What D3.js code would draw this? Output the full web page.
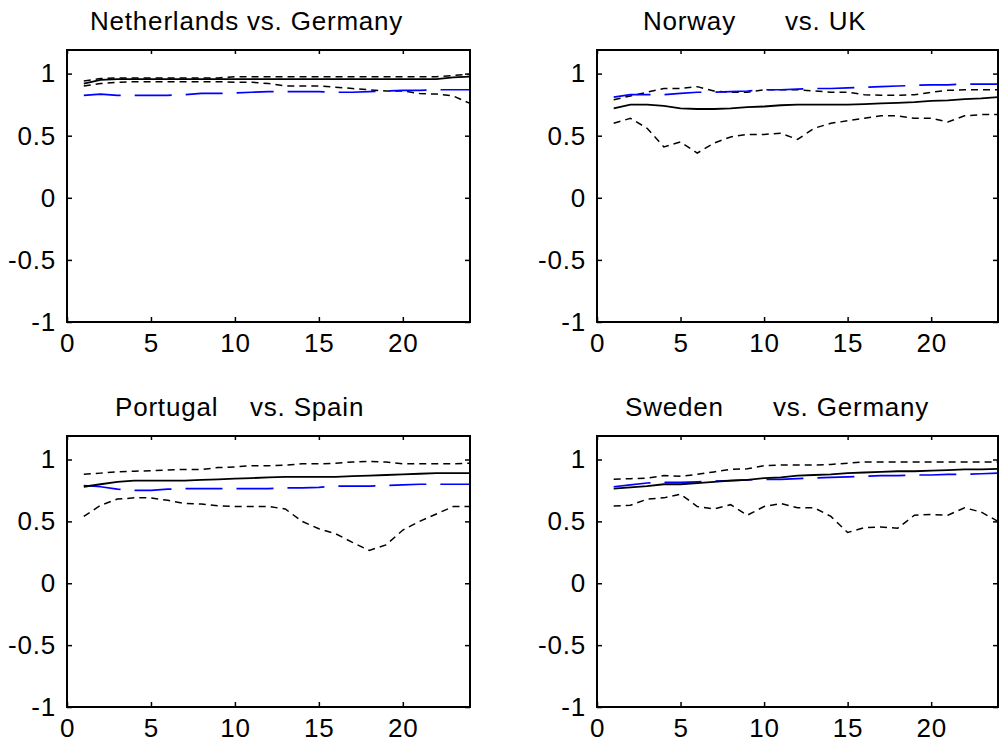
<!DOCTYPE html>
<html>
<head>
<meta charset="utf-8">
<script src="https://cdn.jsdelivr.net/npm/d3@7"></script>
<style>
  body { margin: 0; background: #fff; }
  text { font-family: 'Liberation Sans', Arial, sans-serif; }
</style>
</head>
<body>
<div id="chart"></div>
<script>
// horizon (months) and axis ticks
const horizon = [1, 2, 3, 4, 5, 6, 7, 8, 9, 10, 11, 12, 13, 14, 15, 16, 17, 18, 19, 20, 21, 22, 23, 24]
const xTicks = [0, 5, 10, 15, 20]
const yTicks = [-1, -0.5, 0, 0.5, 1]

const countries = ['Netherlands', 'Norway', 'Portugal', 'Sweden']
const partners = ['Germany', 'UK', 'Spain', 'Germany']

// Netherlands vs. Germany
const nlEstimate = [0.92, 0.95, 0.955, 0.955, 0.955, 0.955, 0.955, 0.955, 0.955, 0.955, 0.955, 0.955, 0.955, 0.955, 0.955, 0.955, 0.955, 0.955, 0.955, 0.955, 0.955, 0.955, 0.97, 0.975]
const nlUpper = [0.94, 0.96, 0.965, 0.965, 0.965, 0.965, 0.965, 0.965, 0.965, 0.975, 0.975, 0.975, 0.975, 0.975, 0.975, 0.975, 0.975, 0.975, 0.975, 0.975, 0.975, 0.975, 0.985, 0.995]
const nlLower = [0.9, 0.92, 0.93, 0.935, 0.935, 0.935, 0.935, 0.935, 0.935, 0.93, 0.93, 0.92, 0.9, 0.9, 0.9, 0.89, 0.88, 0.87, 0.86, 0.86, 0.84, 0.835, 0.82, 0.76]
const nlBenchmark = [0.825, 0.835, 0.825, 0.825, 0.825, 0.825, 0.83, 0.84, 0.84, 0.845, 0.85, 0.855, 0.855, 0.855, 0.855, 0.85, 0.85, 0.855, 0.86, 0.865, 0.865, 0.87, 0.87, 0.87]

// Norway vs. UK
const noEstimate = [0.72, 0.75, 0.75, 0.74, 0.72, 0.715, 0.715, 0.72, 0.73, 0.735, 0.745, 0.75, 0.75, 0.75, 0.75, 0.755, 0.76, 0.765, 0.77, 0.78, 0.785, 0.795, 0.8, 0.81]
const noUpper = [0.79, 0.82, 0.85, 0.88, 0.88, 0.895, 0.86, 0.85, 0.85, 0.87, 0.87, 0.87, 0.86, 0.85, 0.85, 0.83, 0.825, 0.825, 0.83, 0.85, 0.865, 0.87, 0.87, 0.87]
const noLower = [0.6, 0.64, 0.56, 0.41, 0.45, 0.36, 0.44, 0.49, 0.51, 0.51, 0.52, 0.47, 0.56, 0.6, 0.62, 0.64, 0.66, 0.66, 0.64, 0.64, 0.61, 0.66, 0.67, 0.67]
const noBenchmark = [0.81, 0.83, 0.83, 0.83, 0.84, 0.85, 0.85, 0.855, 0.86, 0.87, 0.87, 0.875, 0.88, 0.88, 0.885, 0.89, 0.895, 0.9, 0.905, 0.91, 0.91, 0.915, 0.915, 0.915]

// Portugal vs. Spain
const ptEstimate = [0.78, 0.8, 0.82, 0.83, 0.83, 0.83, 0.83, 0.835, 0.84, 0.845, 0.85, 0.855, 0.86, 0.86, 0.86, 0.86, 0.865, 0.87, 0.875, 0.88, 0.885, 0.89, 0.89, 0.89]
const ptUpper = [0.88, 0.89, 0.9, 0.905, 0.91, 0.915, 0.92, 0.92, 0.935, 0.94, 0.95, 0.95, 0.955, 0.965, 0.965, 0.97, 0.98, 0.985, 0.98, 0.965, 0.965, 0.965, 0.965, 0.97]
const ptLower = [0.54, 0.63, 0.68, 0.69, 0.69, 0.67, 0.645, 0.64, 0.625, 0.62, 0.62, 0.62, 0.6, 0.5, 0.44, 0.4, 0.33, 0.265, 0.31, 0.43, 0.5, 0.56, 0.62, 0.62]
const ptBenchmark = [0.79, 0.78, 0.76, 0.75, 0.75, 0.76, 0.765, 0.765, 0.765, 0.765, 0.765, 0.765, 0.77, 0.77, 0.775, 0.785, 0.785, 0.785, 0.79, 0.795, 0.8, 0.8, 0.8, 0.8]

// Sweden vs. Germany
const seEstimate = [0.765, 0.775, 0.785, 0.8, 0.8, 0.81, 0.82, 0.83, 0.835, 0.85, 0.855, 0.87, 0.875, 0.88, 0.89, 0.895, 0.9, 0.905, 0.905, 0.91, 0.915, 0.92, 0.92, 0.925]
const seUpper = [0.84, 0.845, 0.85, 0.87, 0.865, 0.88, 0.9, 0.92, 0.925, 0.95, 0.955, 0.955, 0.955, 0.96, 0.97, 0.98, 0.98, 0.98, 0.98, 0.98, 0.98, 0.98, 0.98, 0.98]
const seLower = [0.625, 0.63, 0.68, 0.69, 0.72, 0.62, 0.6, 0.635, 0.55, 0.62, 0.645, 0.61, 0.61, 0.54, 0.41, 0.45, 0.455, 0.445, 0.55, 0.555, 0.55, 0.61, 0.575, 0.5]
const seBenchmark = [0.78, 0.795, 0.81, 0.815, 0.815, 0.82, 0.825, 0.83, 0.835, 0.84, 0.84, 0.845, 0.85, 0.855, 0.86, 0.865, 0.87, 0.87, 0.875, 0.875, 0.88, 0.88, 0.885, 0.89]

const panels = [
  { estimate: nlEstimate, upper: nlUpper, lower: nlLower, benchmark: nlBenchmark },
  { estimate: noEstimate, upper: noUpper, lower: noLower, benchmark: noBenchmark },
  { estimate: ptEstimate, upper: ptUpper, lower: ptLower, benchmark: ptBenchmark },
  { estimate: seEstimate, upper: seUpper, lower: seLower, benchmark: seBenchmark }
]

// subplot boxes and where the two halves of each title start
const boxes = [
  { left: 67, top: 50, width: 403, height: 272, countryX: 23, partnerX: 180 },
  { left: 597, top: 50, width: 401, height: 272, countryX: 46, partnerX: 188 },
  { left: 67, top: 436, width: 403, height: 271, countryX: 48, partnerX: 183 },
  { left: 597, top: 436, width: 401, height: 271, countryX: 28, partnerX: 176 }
]

const fontSize = 26

const svg = d3
  .select('#chart')
  .append('svg')
  .attr('width', 1000)
  .attr('height', 746)

panels.forEach(function(p, i) {
  const box = boxes[i]
  const g = svg
    .append('g')
    .attr('transform', 'translate(' + box.left + ',' + box.top + ')')

  const xPositionScale = d3
    .scaleLinear()
    .domain([0, 24])
    .range([0, box.width])

  const yPositionScale = d3
    .scaleLinear()
    .domain([-1, 1.19])
    .range([box.height, 0])

  // axes, ticks pointing inward like matlab
  const yAxis = d3
    .axisLeft(yPositionScale)
    .tickValues(yTicks)
    .tickSize(-5)
    .tickPadding(11)
    .tickFormat(d => String(d))
  g.append('g')
    .attr('class', 'axis y-axis')
    .call(yAxis)

  const xAxis = d3
    .axisBottom(xPositionScale)
    .tickValues(xTicks)
    .tickSize(-5)
    .tickPadding(12)
    .tickFormat(d => String(d))
  g.append('g')
    .attr('class', 'axis x-axis')
    .attr('transform', 'translate(0,' + box.height + ')')
    .call(xAxis)

  g.append('g')
    .attr('class', 'axis')
    .attr('transform', 'translate(' + box.width + ',0)')
    .call(d3.axisRight(yPositionScale).tickValues(yTicks).tickSize(-5).tickFormat(''))

  g.append('g')
    .attr('class', 'axis')
    .call(d3.axisTop(xPositionScale).tickValues(xTicks).tickSize(-4).tickFormat(''))

  g.selectAll('.axis path').remove()
  g.selectAll('.axis line')
    .attr('stroke', '#000')
    .attr('stroke-width', 1.5)
  g.selectAll('.axis text')
    .style('font-family', "'Liberation Sans', Arial, sans-serif")
    .style('font-size', fontSize + 'px')
    .style('letter-spacing', '0.8px')
    .attr('fill', '#000')

  const line = d3
    .line()
    .x(function(d, j) {
      return xPositionScale(horizon[j])
    })
    .y(function(d) {
      return yPositionScale(d)
    })

  g.append('path')
    .datum(p.upper)
    .attr('d', line)
    .attr('fill', 'none')
    .attr('stroke', '#000')
    .attr('stroke-width', 1.5)
    .attr('stroke-dasharray', '7,5')

  g.append('path')
    .datum(p.lower)
    .attr('d', line)
    .attr('fill', 'none')
    .attr('stroke', '#000')
    .attr('stroke-width', 1.5)
    .attr('stroke-dasharray', '7,5')

  g.append('path')
    .datum(p.benchmark)
    .attr('d', line)
    .attr('fill', 'none')
    .attr('stroke', '#0000ff')
    .attr('stroke-width', 1.7)
    .attr('stroke-dasharray', '37,14')

  g.append('path')
    .datum(p.estimate)
    .attr('d', line)
    .attr('fill', 'none')
    .attr('stroke', '#000')
    .attr('stroke-width', 1.8)

  // frame
  g.append('rect')
    .attr('width', box.width)
    .attr('height', box.height)
    .attr('fill', 'none')
    .attr('stroke', '#000')
    .attr('stroke-width', 2)

  // title in two parts
  g.append('text')
    .attr('x', box.countryX)
    .attr('y', -20)
    .text(countries[i])
    .style('font-size', fontSize + 'px')
    .style('letter-spacing', '0.8px')
  g.append('text')
    .attr('x', box.partnerX)
    .attr('y', -20)
    .text('vs. ' + partners[i])
    .style('font-size', fontSize + 'px')
    .style('letter-spacing', '0.8px')
})
</script>
</body>
</html>
